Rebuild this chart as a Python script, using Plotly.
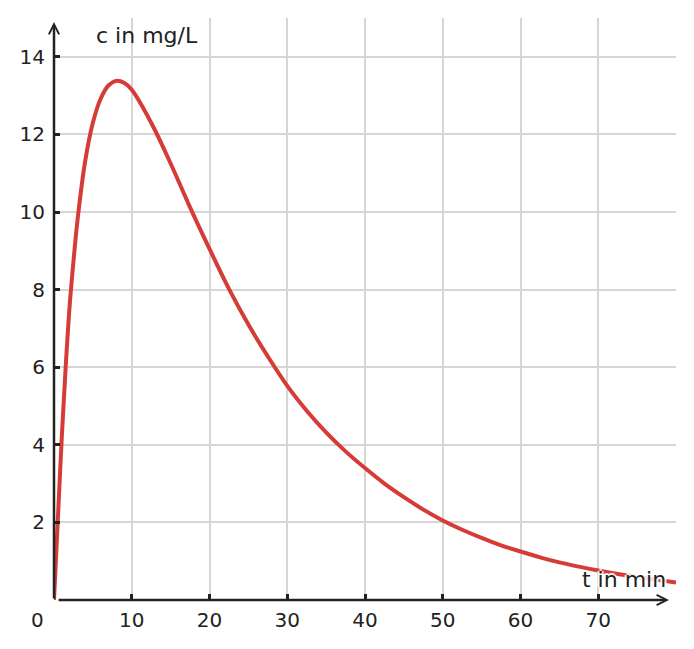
import plotly.graph_objects as go

# data
t_min = [0, 0.5, 1, 1.5, 2, 2.5, 3, 4, 5, 6, 7, 8, 9, 10,
         12.5, 15, 17.5, 20, 22.5, 25, 27.5, 30, 32.5, 35, 37.5, 40, 42.5, 45, 47.5,
         50, 52.5, 55, 57.5, 60, 62.5, 65, 67.5, 70, 72.5, 75, 77.5, 80]
c_mgL = [0, 2.1, 4.2, 6.0, 7.55, 8.72, 9.75, 11.3, 12.3, 12.92, 13.26, 13.38, 13.33, 13.15,
         12.3, 11.25, 10.12, 9.05, 8.02, 7.1, 6.28, 5.52, 4.88, 4.32, 3.83, 3.4, 3.0, 2.65, 2.33,
         2.05, 1.81, 1.6, 1.41, 1.25, 1.1, 0.97, 0.86, 0.76, 0.67, 0.59, 0.52, 0.45]

x_ticks = [0, 10, 20, 30, 40, 50, 60, 70]
x_ticklabels = ["", "10", "20", "30", "40", "50", "60", "70"]
y_ticks = [0, 2, 4, 6, 8, 10, 12, 14]
y_ticklabels = ["", "2", "4", "6", "8", "10", "12", "14"]

FONT = "DejaVu Sans"
DARK = "#222222"
RED = "#d63c37"
GRID = "#d6d6d6"

fig = go.Figure()
fig.add_trace(go.Scatter(x=t_min, y=c_mgL, mode="lines",
                         line=dict(color=RED, width=4, shape="spline", smoothing=1.0),
                         hoverinfo="skip", showlegend=False))

fig.update_layout(
    width=686, height=641,
    margin=dict(l=46, r=18, t=10, b=49),
    paper_bgcolor="white", plot_bgcolor="white",
    font=dict(family=FONT, size=20, color=DARK),
    showlegend=False,
    xaxis=dict(range=[0, 80], tickvals=x_ticks, ticktext=x_ticklabels,
               showgrid=True, gridcolor=GRID, gridwidth=2, zeroline=False,
               showline=False, ticks="inside", ticklen=6, tickwidth=2.5, tickcolor=DARK,
               tickfont=dict(family=FONT, size=20, color=DARK), ticklabelstandoff=6,
               fixedrange=True),
    yaxis=dict(range=[0, 15], tickvals=y_ticks, ticktext=y_ticklabels,
               showgrid=True, gridcolor=GRID, gridwidth=2, zeroline=False,
               showline=False, ticks="inside", ticklen=6, tickwidth=2.5, tickcolor=DARK,
               tickfont=dict(family=FONT, size=20, color=DARK), ticklabelstandoff=8,
               fixedrange=True),
    annotations=[
        # x axis arrow
        dict(x=79.1, y=0, ax=0.4, ay=0, xref="x", yref="y", axref="x", ayref="y",
             text="", showarrow=True, arrowhead=5, arrowsize=0.8, arrowwidth=2.5,
             arrowcolor=DARK),
        # y axis arrow
        dict(x=0, y=14.9, ax=0, ay=0, xref="x", yref="y", axref="x", ayref="y",
             text="", showarrow=True, arrowhead=5, arrowsize=0.8, arrowwidth=2.5,
             arrowcolor=DARK),
        dict(x=5.2, y=14.56, xref="x", yref="y", text="c in mg/L", showarrow=False,
             xanchor="left", yanchor="middle", font=dict(family=FONT, size=22, color=DARK)),
        dict(x=79.0, y=0.52, xref="x", yref="y", text="t in min", showarrow=False,
             xanchor="right", yanchor="middle",
             font=dict(family=FONT, size=22, color=DARK,
                       shadow="2px 0 1px white, -2px 0 1px white, 0 2px 1px white, 0 -2px 1px white")),
        dict(x=-0.0273, y=-0.0344, xref="paper", yref="paper", text="0", showarrow=False,
             xanchor="center", yanchor="middle", font=dict(family=FONT, size=20, color=DARK)),
    ],
)

fig.write_html("out.html")
